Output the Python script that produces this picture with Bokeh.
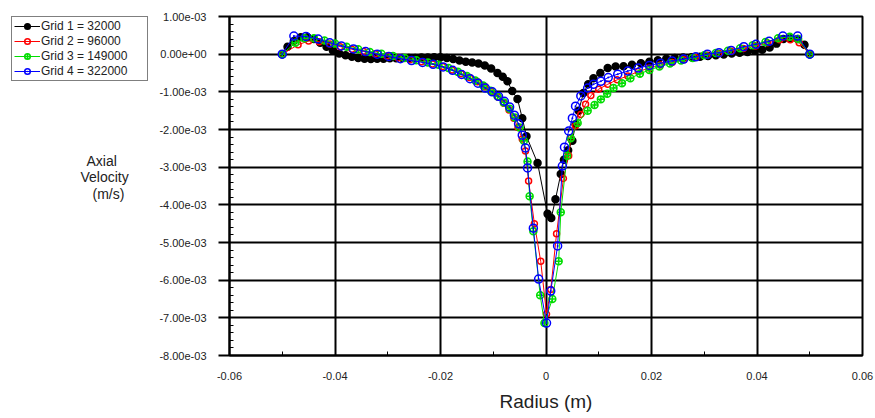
import numpy as np
from bokeh.plotting import figure
from bokeh.layouts import row
from bokeh.models import (Range1d, FixedTicker, CustomJSTickFormatter, Legend, LegendItem,
                          Label, ColumnDataSource)
from bokeh.embed import file_html
from bokeh.resources import INLINE

# ---------------- data (axial velocity in units of 1e-3 m/s) ----------------
r1 = [-0.0500, -0.0490, -0.0478, -0.0465, -0.0452, -0.0440, -0.0428, -0.0416, -0.0404, -0.0392,
      -0.0380, -0.0368, -0.0356, -0.0344, -0.0332, -0.0320, -0.0308, -0.0296, -0.0284, -0.0272,
      -0.0260, -0.0248, -0.0236, -0.0224, -0.0212, -0.0200, -0.0188, -0.0176, -0.0164, -0.0152,
      -0.0140, -0.0128, -0.0116, -0.0104, -0.0092, -0.0082, -0.0073, -0.0064, -0.0054, -0.0045,
      -0.0037, -0.0016, 0.0003, 0.0010, 0.0018, 0.0028, 0.0034, 0.0042, 0.0050, 0.0056,
      0.0062, 0.0071, 0.0080, 0.0090, 0.0103, 0.0117, 0.0132, 0.0147, 0.0163, 0.0180,
      0.0196, 0.0212, 0.0228, 0.0244, 0.0260, 0.0276, 0.0292, 0.0307, 0.0322, 0.0337,
      0.0352, 0.0367, 0.0382, 0.0396, 0.0410, 0.0424, 0.0437, 0.0450, 0.0463, 0.0477,
      0.0490, 0.0500]
v1 = [0.00, 0.20, 0.35, 0.45, 0.45, 0.40, 0.30, 0.20, 0.10, 0.02,
      -0.03, -0.07, -0.10, -0.12, -0.13, -0.12, -0.12, -0.11, -0.11, -0.10,
      -0.10, -0.10, -0.09, -0.09, -0.08, -0.08, -0.10, -0.13, -0.17, -0.20,
      -0.22, -0.25, -0.30, -0.38, -0.50, -0.60, -0.72, -0.98, -1.19, -1.70,
      -2.18, -2.89, -4.24, -4.35, -3.85, -3.18, -2.80, -2.55, -2.30, -1.86,
      -1.50, -1.03, -0.80, -0.64, -0.50, -0.37, -0.33, -0.32, -0.28, -0.24,
      -0.20, -0.16, -0.12, -0.10, -0.09, -0.08, -0.07, -0.05, -0.03, -0.01,
      0.02, 0.04, 0.06, 0.09, 0.12, 0.18, 0.28, 0.40, 0.42, 0.40,
      0.25, 0.00]

r2 = [-0.0500, -0.0470, -0.0450, -0.0430, -0.0410, -0.0390, -0.0368, -0.0346, -0.0324, -0.0302,
      -0.0280, -0.0258, -0.0236, -0.0215, -0.0196, -0.0178, -0.0161, -0.0145, -0.0130, -0.0116,
      -0.0103, -0.0091, -0.0080, -0.0070, -0.0061, -0.0053, -0.0045, -0.0039, -0.0033, -0.0022,
      -0.0010, 0.0001, 0.0009, 0.0020, 0.0033, 0.0043, 0.0047, 0.0056, 0.0066, 0.0075,
      0.0085, 0.0100, 0.0117, 0.0135, 0.0155, 0.0175, 0.0196, 0.0217, 0.0239, 0.0261,
      0.0283, 0.0305, 0.0328, 0.0351, 0.0374, 0.0397, 0.0420, 0.0443, 0.0463, 0.0480,
      0.0500]
v2 = [0.00, 0.25, 0.35, 0.33, 0.27, 0.20, 0.13, 0.07, 0.01, -0.05,
      -0.10, -0.15, -0.20, -0.26, -0.33, -0.42, -0.52, -0.62, -0.73, -0.86,
      -1.00, -1.14, -1.30, -1.48, -1.70, -1.95, -2.25, -2.57, -3.37, -4.50,
      -5.50, -6.90, -6.25, -4.77, -3.30, -2.70, -2.23, -1.90, -1.60, -1.33,
      -1.10, -0.93, -0.80, -0.68, -0.58, -0.46, -0.37, -0.29, -0.22, -0.15,
      -0.09, -0.03, 0.02, 0.08, 0.15, 0.22, 0.30, 0.38, 0.38, 0.30,
      0.00]

r3 = [-0.0500, -0.0475, -0.0458, -0.0440, -0.0420, -0.0400, -0.0378, -0.0356, -0.0334, -0.0312,
      -0.0290, -0.0268, -0.0246, -0.0224, -0.0204, -0.0185, -0.0167, -0.0150, -0.0134, -0.0119,
      -0.0105, -0.0092, -0.0080, -0.0069, -0.0059, -0.0050, -0.0042, -0.0035, -0.0031, -0.0024,
      -0.0011, -0.0003, 0.0012, 0.0024, 0.0028, 0.0040, 0.0047, 0.0060, 0.0079, 0.0092,
      0.0104, 0.0116, 0.0128, 0.0144, 0.0160, 0.0178, 0.0196, 0.0215, 0.0235, 0.0256,
      0.0278, 0.0300, 0.0322, 0.0345, 0.0368, 0.0392, 0.0416, 0.0440, 0.0462, 0.0478,
      0.0500]
v3 = [0.00, 0.30, 0.42, 0.42, 0.36, 0.28, 0.20, 0.13, 0.06, 0.01,
      -0.05, -0.10, -0.16, -0.22, -0.28, -0.37, -0.47, -0.58, -0.70, -0.83,
      -0.97, -1.12, -1.28, -1.45, -1.68, -1.95, -2.30, -2.85, -3.77, -4.70,
      -6.40, -7.14, -6.50, -5.50, -4.20, -2.70, -2.23, -1.83, -1.50, -1.35,
      -1.20, -1.05, -0.90, -0.77, -0.64, -0.52, -0.42, -0.33, -0.25, -0.17,
      -0.10, -0.03, 0.03, 0.09, 0.16, 0.24, 0.32, 0.42, 0.46, 0.40,
      0.00]

r4 = [-0.0500, -0.0478, -0.0455, -0.0432, -0.0410, -0.0388, -0.0365, -0.0342, -0.0320, -0.0298,
      -0.0276, -0.0255, -0.0234, -0.0214, -0.0195, -0.0177, -0.0160, -0.0144, -0.0129, -0.0115,
      -0.0102, -0.0090, -0.0079, -0.0069, -0.0060, -0.0052, -0.0045, -0.0039, -0.0035, -0.0024,
      -0.0014, 0.0001, 0.0009, 0.0022, 0.0031, 0.0035, 0.0043, 0.0050, 0.0056, 0.0066,
      0.0079, 0.0090, 0.0104, 0.0118, 0.0136, 0.0155, 0.0175, 0.0196, 0.0217, 0.0239,
      0.0261, 0.0284, 0.0306, 0.0328, 0.0351, 0.0375, 0.0398, 0.0423, 0.0449, 0.0477,
      0.0500]
v4 = [0.00, 0.48, 0.47, 0.40, 0.30, 0.22, 0.14, 0.07, 0.00, -0.06,
      -0.12, -0.17, -0.22, -0.27, -0.34, -0.43, -0.54, -0.65, -0.77, -0.90,
      -1.00, -1.12, -1.25, -1.40, -1.62, -1.85, -2.15, -2.49, -3.02, -4.62,
      -5.97, -7.14, -6.29, -5.09, -2.97, -2.47, -2.04, -1.70, -1.38, -1.11,
      -0.90, -0.80, -0.72, -0.62, -0.53, -0.45, -0.37, -0.30, -0.24, -0.18,
      -0.13, -0.07, 0.00, 0.04, 0.10, 0.20, 0.26, 0.34, 0.48, 0.48,
      0.00]

series_names = ["Grid 1 = 32000", "Grid 2 = 96000", "Grid 3 = 149000", "Grid 4 = 322000"]
x_ticks = [-0.06, -0.04, -0.02, 0.0, 0.02, 0.04, 0.06]
x_tick_labels = ["-0.06", "-0.04", "-0.02", "0", "0.02", "0.04", "0.06"]
y_ticks = [-8e-3, -7e-3, -6e-3, -5e-3, -4e-3, -3e-3, -2e-3, -1e-3, 0.0, 1e-3]
y_title_lines = ["Axial", "Velocity", "(m/s)"]

FONT = "Liberation Sans"
TXT = "#222222"
LEFT_W = 150
LEG_X, LEG_Y = 11, 16

# ---------------- main plot ----------------
p = figure(width=875 - LEFT_W, height=418, output_backend="svg", toolbar_location=None,
           x_range=Range1d(-0.06, 0.06), y_range=Range1d(-8e-3, 1e-3),
           min_border_left=229 - LEFT_W, min_border_right=13, min_border_top=15, min_border_bottom=63)
p.background_fill_color = "white"
p.border_fill_color = "white"
p.outline_line_color = "black"
p.outline_line_width = 2

p.xaxis.ticker = FixedTicker(ticks=x_ticks, minor_ticks=list(np.round(np.arange(-0.06, 0.0601, 0.01), 4)))
p.xaxis.major_label_overrides = {t: l for t, l in zip(x_ticks, x_tick_labels)}
p.yaxis.ticker = FixedTicker(ticks=y_ticks, minor_ticks=list(np.round(np.arange(-8e-3, 1.0001e-3, 2e-4), 6)))
p.yaxis.formatter = CustomJSTickFormatter(code="""
    let s = tick.toExponential(2);
    return s.replace(/e([+-])(\\d)$/, 'e$10$2');
""")
for ax in (p.xaxis[0], p.yaxis[0]):
    ax.axis_line_color = "black"
    ax.axis_line_width = 2
    ax.major_tick_line_color = "black"
    ax.major_tick_line_width = 2
    ax.minor_tick_line_color = "black"
    ax.minor_tick_line_width = 1
    ax.major_label_text_font = FONT
    ax.major_label_text_font_size = "11px"
    ax.major_label_text_color = TXT
p.xaxis.major_tick_out = 0
p.xaxis.major_tick_in = 0
p.xaxis.minor_tick_in = 4
p.xaxis.minor_tick_out = 0
p.xaxis.major_label_standoff = 16
p.xaxis.axis_label = "Radius (m)"
p.xaxis.axis_label_text_font = FONT
p.xaxis.axis_label_text_font_style = "normal"
p.xaxis.axis_label_text_font_size = "19px"
p.xaxis.axis_label_text_color = TXT
p.xaxis.axis_label_standoff = 8
p.yaxis.major_tick_out = 11
p.yaxis.major_tick_in = 0
p.yaxis.minor_tick_in = 4
p.yaxis.minor_tick_out = 0
p.yaxis.major_label_standoff = 12

p.xgrid.ticker = FixedTicker(ticks=x_ticks)
p.ygrid.ticker = FixedTicker(ticks=y_ticks)
for g in (p.xgrid[0], p.ygrid[0]):
    g.grid_line_color = "black"
    g.grid_line_width = 2
    g.grid_line_alpha = 1.0

specs = [
    (r1, v1, "black", "circle", 7, "black"),
    (r2, v2, "red", "circle", 6, None),
    (r3, v3, "#00dd00", "circle_cross", 7, None),
    (r4, v4, "blue", "circle_dot", 8, None),
]

# ---------------- left column: legend + y-axis title ----------------
lf = figure(width=LEFT_W, height=418, output_backend="svg", toolbar_location=None,
            x_range=Range1d(LEG_X, LEFT_W), y_range=Range1d(418, LEG_Y),
            x_axis_type=None, y_axis_type=None,
            min_border_left=LEG_X, min_border_right=0, min_border_top=LEG_Y, min_border_bottom=0)
lf.outline_line_color = None
lf.xgrid.visible = False
lf.ygrid.visible = False
lf.background_fill_color = "white"
lf.border_fill_color = "white"

items = []
for (rr, vv, col, mk, sz, fill), name in zip(specs, series_names):
    src = ColumnDataSource(dict(x=rr, y=np.array(vv) * 1e-3))
    p.line("x", "y", source=src, line_color=col, line_width=1)
    p.scatter("x", "y", source=src, marker=mk, size=sz, line_color=col,
              line_width=1.5, fill_color=fill if fill else "white",
              fill_alpha=1.0 if fill else 0.0)
    # legend proxies in the left column (points lie outside its visible range)
    dsrc = ColumnDataSource(dict(x=[-1000.0, -999.0], y=[-1000.0, -1000.0]))
    ln = lf.line("x", "y", source=dsrc, line_color=col, line_width=1)
    sc = lf.scatter("x", "y", source=dsrc, marker=mk, size=sz, line_color=col,
                    line_width=1.5, fill_color=fill if fill else "white",
                    fill_alpha=1.0 if fill else 0.0)
    items.append(LegendItem(label=name, renderers=[ln, sc]))

legend = Legend(items=items, location="top_left", orientation="vertical",
                border_line_color="black", border_line_width=1.5,
                background_fill_color="white", background_fill_alpha=1.0,
                label_text_font=FONT, label_text_font_size="12px",
                label_text_color=TXT,
                glyph_width=26, glyph_height=14, label_height=14, label_width=104,
                label_standoff=1, spacing=1, padding=2, margin=0)
lf.add_layout(legend, "center")

for txt, xx, yy in zip(y_title_lines, [86, 80, 92], [187, 206, 226]):
    lf.add_layout(Label(x=xx, y=yy, text=txt,
                        text_font=FONT, text_font_size="14px", text_color=TXT,
                        text_baseline="middle", text_align="left"))

layout = row(lf, p, spacing=0)
open("out.html", "w").write(file_html(layout, INLINE))
